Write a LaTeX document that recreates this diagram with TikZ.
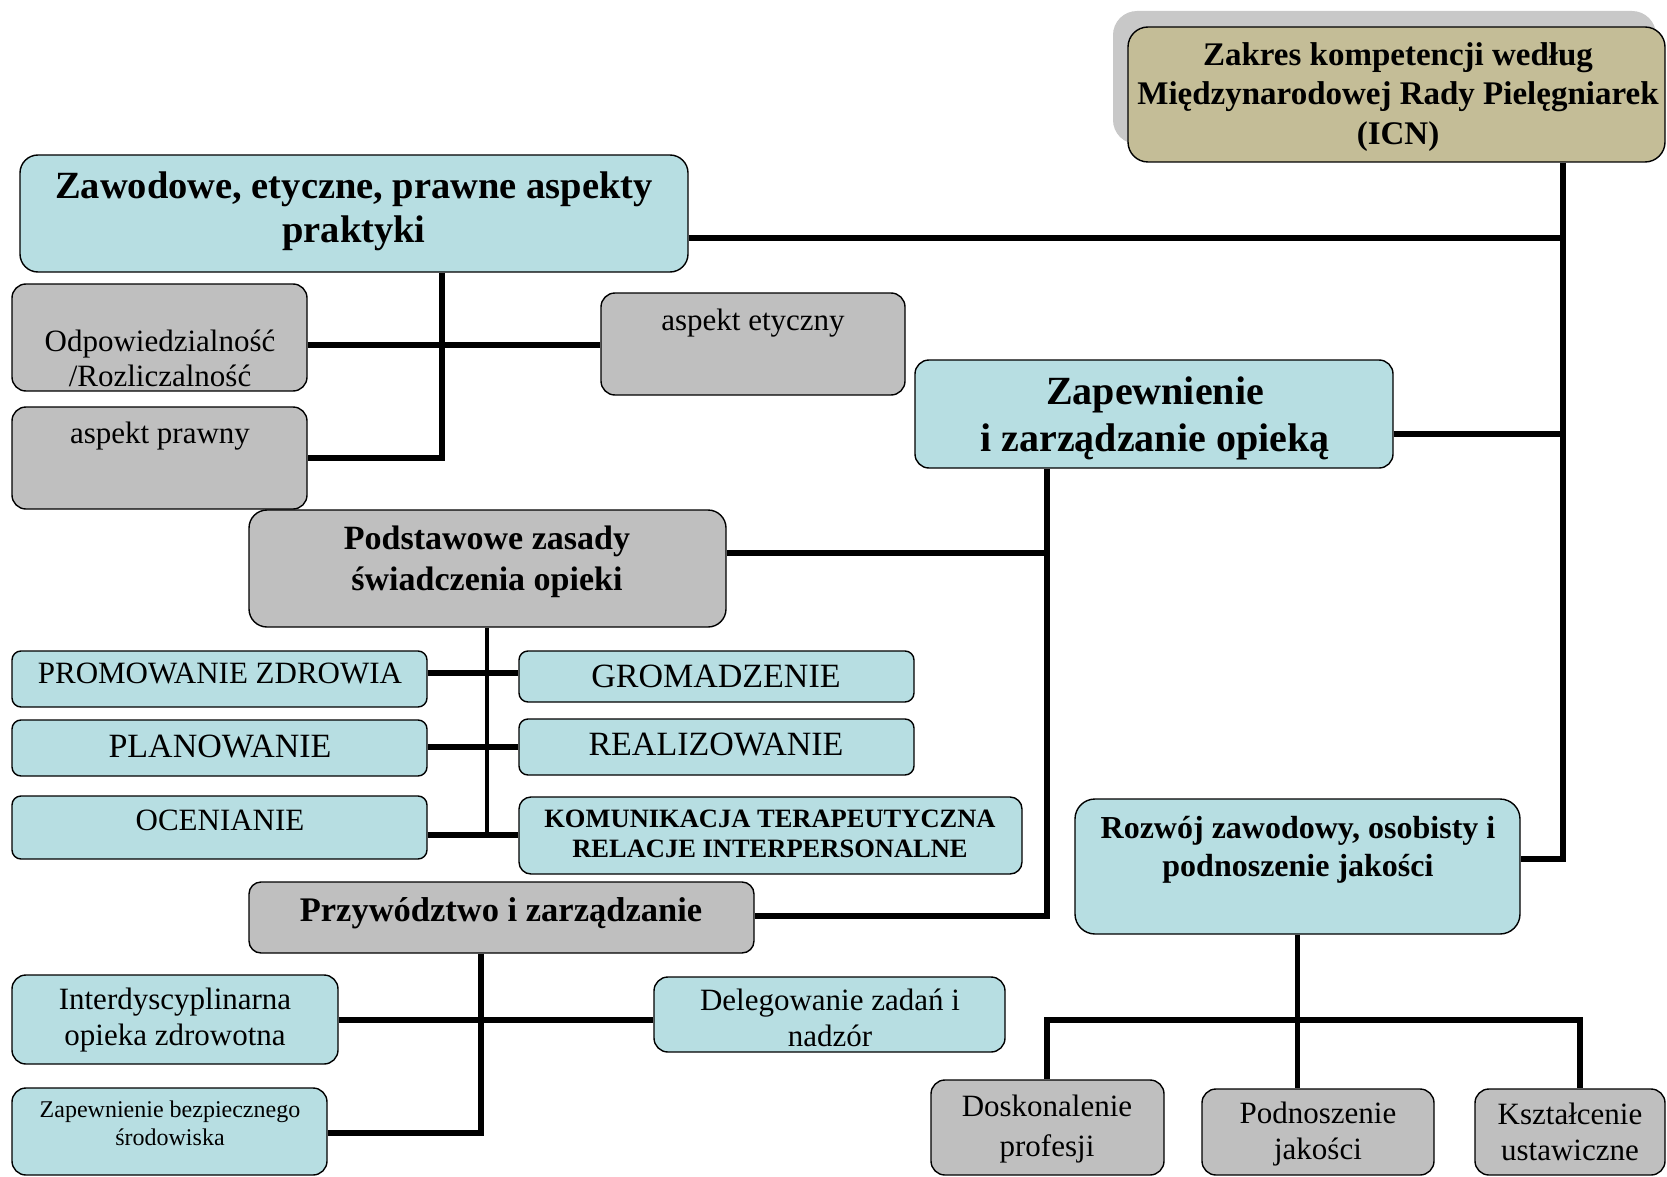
\documentclass[tikz,border=0pt]{standalone}
\usepackage{fontspec}
\setmainfont{Liberation Serif}
\usetikzlibrary{fit}
\definecolor{cyanF}{RGB}{183,222,226}
\definecolor{grayF}{RGB}{191,191,191}
\definecolor{icnF}{RGB}{196,189,151}
\definecolor{shadowF}{RGB}{200,200,200}
\tikzset{
  bx/.style={draw=black, line width=1.4pt, rounded corners=14pt, inner sep=0pt},
  cy/.style={bx, fill=cyanF},
  gr/.style={bx, fill=grayF},
  tx/.style={align=center, inner sep=0pt},
  conn/.style={line width=5.5pt, line join=miter},
  fB/.style={font=\fontsize{31}{35}\selectfont},
}
\begin{document}
\begin{tikzpicture}[x=1pt,y=-1pt]
\useasboundingbox (0,0) rectangle (1667,1177);
% shadow of title box
\fill[shadowF, rounded corners=24pt] (1113,11) rectangle (1656,144);
% boxes
\node[bx, fill=icnF, rounded corners=20pt, fit={(1128,27) (1665,162)}] (icn) {};
\node[cy, rounded corners=18pt, fit={(20,155) (688,272)}] (zaw) {};
\node[gr, fit={(12,284) (307,391)}] (odp) {};
\node[gr, fit={(12,407) (307,509)}] (prawny) {};
\node[gr, fit={(601,293) (905,395)}] (etyczny) {};
\node[cy, fit={(915,360) (1393,468)}] (zap) {};
\node[gr, rounded corners=18pt, fit={(249,510) (726,627)}] (pod) {};
\node[cy, rounded corners=9pt, fit={(12,651) (427,707)}] (prom) {};
\node[cy, rounded corners=9pt, fit={(519,651) (914,702)}] (grom) {};
\node[cy, rounded corners=9pt, fit={(12,720) (427,776)}] (plan) {};
\node[cy, rounded corners=9pt, fit={(519,719) (914,775)}] (real) {};
\node[cy, rounded corners=9pt, fit={(12,796) (427,859)}] (ocen) {};
\node[cy, rounded corners=12pt, fit={(519,797) (1022,874)}] (kom) {};
\node[gr, rounded corners=12pt, fit={(249,882) (754,953)}] (przy) {};
\node[cy, fit={(12,975) (338,1064)}] (inter) {};
\node[cy, fit={(654,977) (1005,1052)}] (deleg) {};
\node[cy, fit={(12,1088) (327,1175)}] (bezp) {};
\node[cy, rounded corners=20pt, fit={(1075,799) (1520,934)}] (rozw) {};
\node[gr, fit={(931,1080) (1164,1175)}] (dosk) {};
\node[gr, fit={(1202,1089) (1434,1175)}] (podn) {};
\node[gr, fit={(1475,1089) (1665,1175)}] (ksz) {};
% texts
\node[tx, font=\fontsize{33}{39.5}\selectfont\bfseries] (icn-t) at (1398,97) {Zakres kompetencji według\\Międzynarodowej Rady Pielęgniarek\\(ICN)};
\node[tx, font=\fontsize{38.5}{44}\selectfont\bfseries] (zaw-t) at (354,211) {Zawodowe, etyczne, prawne aspekty\\praktyki};
\node[tx, fB] (odp-t) at (160,358) {Odpowiedzialność\\/Rozliczalność};
\node[tx, fB] (prawny-t) at (160,436) {aspekt prawny};
\node[tx, fB] (etyczny-t) at (753,323) {aspekt etyczny};
\node[tx, font=\fontsize{40}{47}\selectfont\bfseries] (zap-t) at (1155,418) {Zapewnienie\\i zarządzanie opieką};
\node[tx, font=\fontsize{34}{41}\selectfont\bfseries] (pod-t) at (487,562) {Podstawowe zasady\\świadczenia opieki};
\node[tx, fB] (prom-t) at (220,673) {PROMOWANIE ZDROWIA};
\node[tx, font=\fontsize{34}{38}\selectfont] (grom-t) at (716,676) {GROMADZENIE};
\node[tx, font=\fontsize{34}{38}\selectfont] (plan-t) at (220,746) {PLANOWANIE};
\node[tx, font=\fontsize{34}{38}\selectfont] (real-t) at (716,744) {REALIZOWANIE};
\node[tx, fB] (ocen-t) at (220,820) {OCENIANIE};
\node[tx, font=\fontsize{26.5}{29.5}\selectfont\bfseries] (kom-t) at (770,834) {KOMUNIKACJA TERAPEUTYCZNA\\RELACJE INTERPERSONALNE};
\node[tx, font=\fontsize{34.5}{40}\selectfont\bfseries] (przy-t) at (501,913) {Przywództwo i zarządzanie};
\node[tx, font=\fontsize{31}{36.5}\selectfont] (inter-t) at (175,1020) {Interdyscyplinarna\\opieka zdrowotna};
\node[tx, font=\fontsize{31}{36}\selectfont] (deleg-t) at (830,1018) {Delegowanie zadań i\\nadzór};
\node[tx, font=\fontsize{24}{28}\selectfont] (bezp-t) at (170,1123) {Zapewnienie bezpiecznego\\środowiska};
\node[tx, font=\fontsize{32}{38.5}\selectfont\bfseries] (rozw-t) at (1298,850) {Rozwój zawodowy, osobisty i\\podnoszenie jakości};
\node[tx, font=\fontsize{31}{39.5}\selectfont] (dosk-t) at (1047,1129) {Doskonalenie\\profesji};
\node[tx, font=\fontsize{31}{36.5}\selectfont] (podn-t) at (1318,1134) {Podnoszenie\\jakości};
\node[tx, font=\fontsize{31}{36}\selectfont] (ksz-t) at (1570,1132) {Kształcenie\\ustawiczne};
% junction coordinates
\coordinate (T0) at (1563,238);
\coordinate (T1) at (1563,434);
\coordinate (T2) at (1563,859);
\coordinate (Z1) at (442,345);
\coordinate (Z2) at (442,458);
\coordinate (P1) at (1047,553);
\coordinate (P2) at (1047,916);
\coordinate (Q1) at (487,673);
\coordinate (Q2) at (487,747);
\coordinate (Q3) at (487,835);
\coordinate (R1) at (481,1020);
\coordinate (R2) at (481,1133);
\coordinate (S0) at (1047,1020);
\coordinate (S2) at (1580,1020);
% connectors
\draw[conn] (icn.south -| T0) -- (T2) -- (rozw.east |- T2);
\draw[conn] (zaw.east |- T0) -- (T0);
\draw[conn] (zap.east |- T1) -- (T1);
\draw[conn] (zaw.south -| Z1) -- (Z2) -- (prawny.east |- Z2);
\draw[conn] (odp.east |- Z1) -- (etyczny.west |- Z1);
\draw[conn] (zap.south -| P1) -- (P2) -- (przy.east |- P2);
\draw[conn] (pod.east |- P1) -- (P1);
\draw[conn, line width=4pt] (pod.south -| Q1) -- (Q3);
\draw[conn] (prom.east |- Q1) -- (grom.west |- Q1);
\draw[conn] (plan.east |- Q2) -- (real.west |- Q2);
\draw[conn] (ocen.east |- Q3) -- (kom.west |- Q3);
\draw[conn] (przy.south -| R1) -- (R2) -- (bezp.east |- R2);
\draw[conn] (inter.east |- R1) -- (deleg.west |- R1);
\draw[conn] (rozw.south) -- (rozw.south |- podn.north);
\draw[conn] (dosk.north -| S0) -- (S0) -- (S2) -- (ksz.north -| S2);
\end{tikzpicture}
\end{document}
